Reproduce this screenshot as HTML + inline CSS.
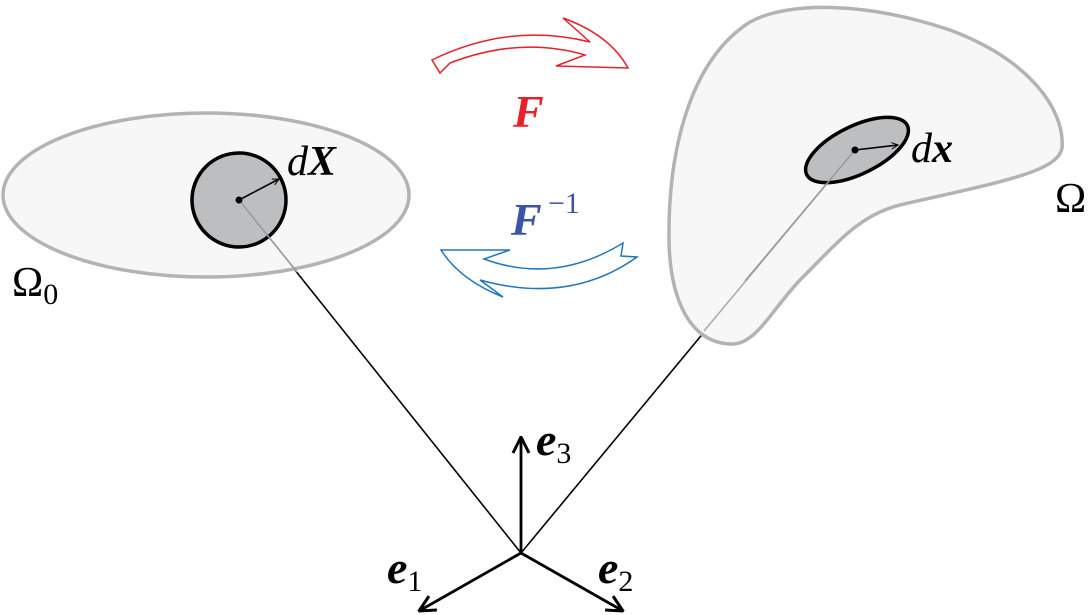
<!DOCTYPE html>
<html><head><style>
html,body{margin:0;padding:0;background:#fff;}
svg{display:block}
text{font-family:"Liberation Serif",serif;}
</style></head><body>
<svg width="1092" height="615" viewBox="0 0 1092 615" xmlns="http://www.w3.org/2000/svg">
<defs>
<marker id="a" viewBox="0 0 10 10" refX="9" refY="5" markerWidth="8" markerHeight="8" orient="auto" markerUnits="userSpaceOnUse"><path d="M1,1 L9,5 L1,9" fill="none" stroke="#000" stroke-width="1.3"/></marker>
<marker id="b" viewBox="0 0 20 20" refX="19" refY="10" markerWidth="20" markerHeight="20" orient="auto" markerUnits="userSpaceOnUse"><path d="M3,2 L19,10 L3,18" fill="none" stroke="#000" stroke-width="3"/></marker>
</defs>
<line x1="521" y1="553" x2="239" y2="200" stroke="#000" stroke-width="1.6"/>
<line x1="521" y1="553" x2="855" y2="150" stroke="#000" stroke-width="1.6"/>
<ellipse cx="206" cy="195" rx="203" ry="82" fill="#f7f7f7" stroke="#b3b3b3" stroke-width="3.5"/>
<path d="M730,344 C690,342 670,300 669,240 C668,150 690,60 750,22 C790,0 870,3 950,30 C1030,60 1065,110 1062,148 C1058,172 1000,182 900,205 C860,215 840,240 800,280 C770,312 755,346 730,344 Z" fill="#f7f7f7" stroke="#b3b3b3" stroke-width="3.5"/>
<line x1="239" y1="200" x2="297" y2="272" stroke="#aaa" stroke-width="1.5"/>
<line x1="855" y1="150" x2="704" y2="331" stroke="#aaa" stroke-width="1.5"/>
<circle cx="239" cy="200" r="47" fill="#bdbec0" stroke="#000" stroke-width="3.5"/>
<line x1="239" y1="200" x2="297" y2="272" stroke="#999" stroke-width="1.5"/>
<ellipse cx="857" cy="150" rx="56" ry="24" transform="rotate(-26 857 150)" fill="#bdbec0" stroke="#000" stroke-width="3.5"/>
<line x1="855" y1="150" x2="745" y2="281" stroke="#999" stroke-width="1.5"/>
<line x1="239" y1="200" x2="279" y2="179" stroke="#000" stroke-width="1.6" marker-end="url(#a)"/>
<circle cx="239" cy="200" r="3.5" fill="#000"/>
<line x1="855" y1="150" x2="898" y2="145" stroke="#000" stroke-width="1.6" marker-end="url(#a)"/>
<circle cx="855" cy="150" r="3.5" fill="#000"/>
<line x1="521" y1="553" x2="521" y2="437" stroke="#000" stroke-width="2.8" marker-end="url(#b)"/>
<line x1="521" y1="553" x2="419" y2="611" stroke="#000" stroke-width="2.8" marker-end="url(#b)"/>
<line x1="521" y1="553" x2="623" y2="611" stroke="#000" stroke-width="2.8" marker-end="url(#b)"/>
<path d="M432,60 Q510,22 590,42 L563,18 Q610,35 628,68 L556,66 L585,55 Q520,36 450,63 L440,73 Z" fill="none" stroke="#e8202a" stroke-width="1.5"/>
<path d="M441,250 L510,250 L484,259 Q555,285 623,243 L621,256 L637,257 Q570,305 480,280 L503,297 Q460,280 441,250 Z" fill="none" stroke="#1f77c0" stroke-width="1.5"/>
<text x="513" y="127" font-size="46" font-weight="bold" font-style="italic" fill="#e8202a">F</text>
<text x="511" y="235" font-size="46" font-weight="bold" font-style="italic" fill="#3a55a8">F</text>
<text x="548" y="213" font-size="30" fill="#3a55a8">−1</text>
<text x="287" y="175" font-size="42" font-style="italic">d<tspan font-weight="bold">X</tspan></text>
<text x="911" y="162" font-size="42" font-style="italic">d<tspan font-weight="bold">x</tspan></text>
<text x="1055" y="212" font-size="42">Ω</text>
<text x="12" y="296" font-size="42">Ω<tspan font-size="30" dy="8">0</tspan></text>
<text x="536" y="455" font-size="46" font-style="italic" font-weight="bold">e<tspan font-size="30" font-style="normal" font-weight="normal" dy="8">3</tspan></text>
<text x="387" y="583" font-size="46" font-style="italic" font-weight="bold">e<tspan font-size="30" font-style="normal" font-weight="normal" dy="8">1</tspan></text>
<text x="598" y="583" font-size="46" font-style="italic" font-weight="bold">e<tspan font-size="30" font-style="normal" font-weight="normal" dy="8">2</tspan></text>
</svg>
</body></html>
